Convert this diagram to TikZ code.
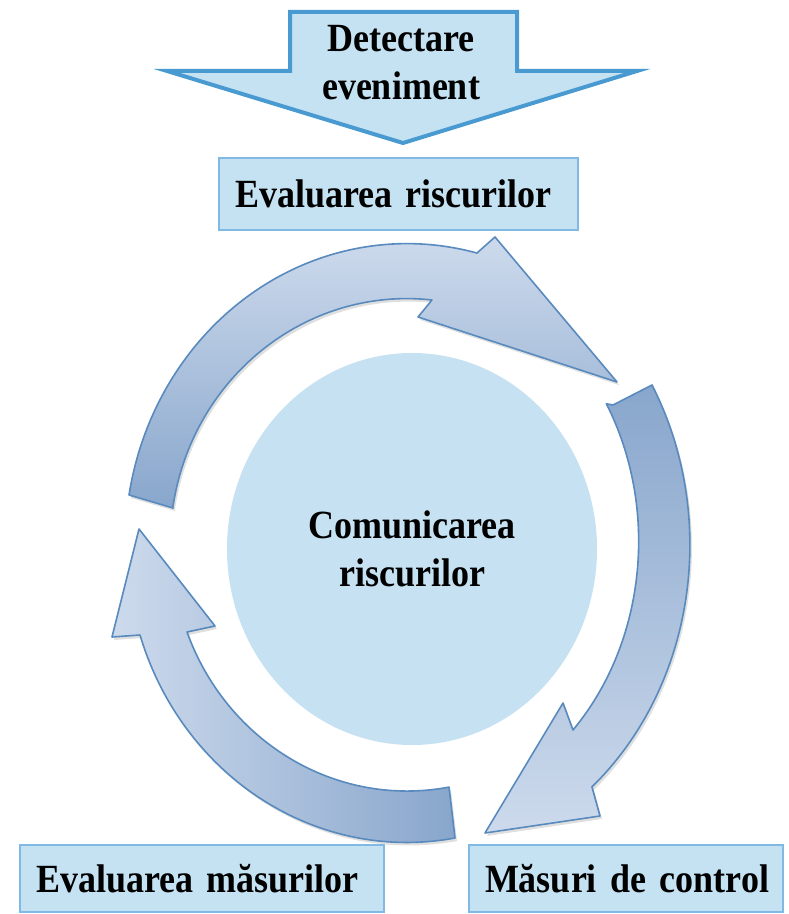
\documentclass[tikz,border=0pt]{standalone}
\usepackage{fontspec}
\setmainfont{Liberation Serif}[FakeStretch=0.9]
\usetikzlibrary{shapes.geometric,shadows}

\definecolor{boxfill}{RGB}{197,226,243}
\definecolor{boxline}{RGB}{128,186,228}
\definecolor{detline}{RGB}{74,154,210}
\definecolor{ringline}{RGB}{88,138,190}
\definecolor{ringlight}{RGB}{205,218,236}
\definecolor{ringdark}{RGB}{136,166,204}
\definecolor{commfill}{RGB}{197,225,242}

\begin{document}
\begin{tikzpicture}[x=0.5pt, y=-0.5pt,
		lbl/.style={font=\fontsize{20}{24}\selectfont\bfseries},
		labelbox/.style={lbl, draw=boxline, fill=boxfill, line width=0.8pt, align=left, inner xsep=8pt, inner ysep=0pt},
		ringarrow/.style={draw=ringline, line width=0.8pt, line join=round,
			drop shadow={shadow xshift=1pt, shadow yshift=-1.5pt, opacity=0.25}}]
		\useasboundingbox (0,0) rectangle (788,914);

		% Cycle arrows
		\draw[ringarrow, top color=ringlight, bottom color=ringdark]
			(129,495) arc[start angle=-170.45, end angle=-75.6, x radius=281.9, y radius=301.4]
			-- (477,253) -- (495,237) -- (617,382) -- (418,317) -- (432,300)
			arc[start angle=-83.9, end angle=-171.4, x radius=236.8, y radius=246.4]
			-- (173,508) -- cycle;
		\draw[ringarrow, top color=ringdark, bottom color=ringlight]
			(652,385) arc[start angle=-30.0, end angle=49.2, x radius=282.9, y radius=319.8]
			-- (592,787) -- (600,816) -- (485,833) -- (563,703) -- (573,730)
			arc[start angle=43.9, end angle=-30.4, x radius=235, y radius=272]
			-- (613,405) -- cycle;
		\draw[ringarrow, left color=ringlight, right color=ringdark]
			(139,529) -- (215,626) -- (187,632)
			arc[start angle=159.3, end angle=79.7, x radius=235.2, y radius=246.0]
			-- (449,787) -- (455,838)
			arc[start angle=80.1, end angle=162.4, x radius=280.0, y radius=297.4]
			-- (140,635) -- (112,637) -- cycle;

		% Block arrow
		\draw[detline, fill=boxfill, line width=2pt, line join=miter]
			(290,12) -- (517,12) -- (517,71) -- (637,71) -- (403,143) -- (167,71) -- (290,71) -- cycle;

		% Nodes
		\node[lbl, align=center] (detect) at (401,63) {Detectare\\eveniment};
		\node[ellipse, fill=commfill, minimum width=185pt, minimum height=196pt, inner sep=0pt, lbl, align=center] (comm) at (412,549) {Comunicarea\\riscurilor};
		\node[labelbox, text width=163.5pt, minimum height=36pt] (evalrisk) at (398.5,194) {\mbox{Evaluarea riscurilor}};
		\node[labelbox, text width=166pt, minimum height=33.5pt] (evalmeas) at (202,878.5) {\mbox{Evaluarea măsurilor}};
		\node[labelbox, text width=141pt, minimum height=33.5pt] (control) at (626,878.5) {\mbox{Măsuri de control}};
	\end{tikzpicture}
\end{document}
